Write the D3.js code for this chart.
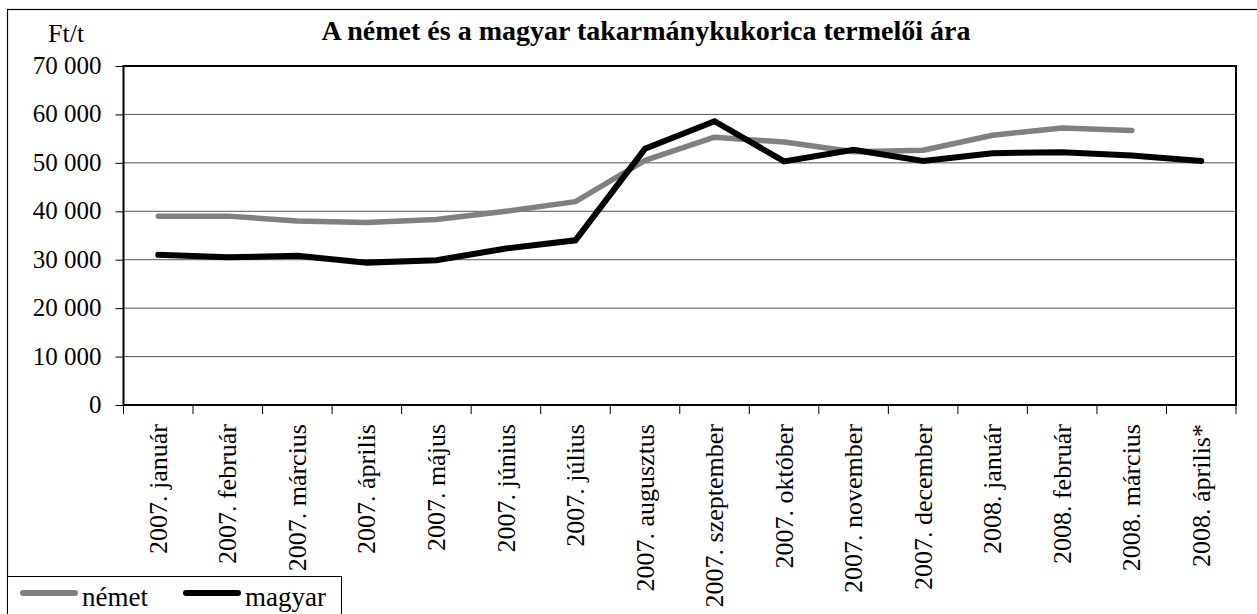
<!DOCTYPE html>
<html>
<head>
<meta charset="utf-8">
<script src="https://cdn.jsdelivr.net/npm/d3@7"></script>
<style>
  body { margin: 0; background: #fff; }
</style>
</head>
<body>
<div id="graph"></div>
<script>
// chart data
var months = ["2007. január", "2007. február", "2007. március", "2007. április", "2007. május",
  "2007. június", "2007. július", "2007. augusztus", "2007. szeptember", "2007. október",
  "2007. november", "2007. december", "2008. január", "2008. február", "2008. március",
  "2008. április*"];
var nemet = [39000, 39000, 38000, 37700, 38300, 40000, 42000, 50500, 55300, 54300,
  52300, 52600, 55700, 57200, 56700, null];
var magyar = [31000, 30500, 30800, 29400, 29900, 32300, 34000, 52900, 58600, 50300,
  52700, 50400, 52000, 52200, 51500, 50400];
var yTicks = [0, 10000, 20000, 30000, 40000, 50000, 60000, 70000];

var FONT = "'Liberation Serif', 'Times New Roman', Times, 'DejaVu Serif', serif";

var W = 1257, H = 614;
var margin = {top: 66, right: 21, bottom: 209, left: 123.5},
    width = W - margin.left - margin.right,
    height = H - margin.top - margin.bottom;

var svg = d3.select("#graph").append("svg")
    .attr("width", W)
    .attr("height", H)
    .attr("font-family", FONT);

// outer frame (runs off the right and bottom edges)
svg.append("rect")
    .attr("x", 7.5).attr("y", 9.5)
    .attr("width", W + 20).attr("height", H + 20)
    .attr("fill", "none").attr("stroke", "#000").attr("stroke-width", 1.2);

var x = d3.scaleBand().domain(months).range([0, width]);
var y = d3.scaleLinear().domain([0, 70000]).range([height, 0]);

var fmt = function(d) { return d3.format(",")(d).replace(/,/g, " "); };

var focus = svg.append("g")
    .attr("transform", "translate(" + margin.left + "," + margin.top + ")");

// gridlines
focus.append("g")
    .selectAll("line")
    .data(yTicks.filter(function(d) { return d > 0 && d < 70000; }))
    .enter().append("line")
    .attr("x1", 0).attr("x2", width)
    .attr("y1", function(d) { return y(d); })
    .attr("y2", function(d) { return y(d); })
    .attr("stroke", "#555").attr("stroke-width", 1);

// plot area border
focus.append("rect")
    .attr("width", width).attr("height", height)
    .attr("fill", "none").attr("stroke", "#000").attr("stroke-width", 2);

// y axis
var yAxis = focus.append("g")
    .call(d3.axisLeft(y).tickValues(yTicks).tickFormat(fmt).tickSize(8).tickPadding(14));
yAxis.attr("font-family", FONT);
yAxis.select(".domain").remove();
yAxis.selectAll("line").attr("stroke", "#000");
yAxis.selectAll("text").attr("font-size", 25).attr("fill", "#000").attr("dy", "0.3em");

// x axis
var xAxis = focus.append("g")
    .attr("transform", "translate(0," + height + ")")
    .call(d3.axisBottom(x).tickSize(0));
xAxis.attr("font-family", FONT);
xAxis.select(".domain").remove();
xAxis.selectAll("text")
    .attr("font-size", 26)
    .attr("fill", "#000")
    .style("text-anchor", "end")
    .attr("transform", "rotate(-90)")
    .attr("x", -19).attr("y", 0).attr("dy", "0.33em");

// x tick marks sit at the category boundaries
focus.append("g")
    .selectAll("line")
    .data(d3.range(months.length + 1))
    .enter().append("line")
    .attr("x1", function(i) { return i * x.step(); })
    .attr("x2", function(i) { return i * x.step(); })
    .attr("y1", height).attr("y2", height + 9)
    .attr("stroke", "#000").attr("stroke-width", 1);

var line = d3.line()
    .defined(function(d) { return d != null; })
    .x(function(d, i) { return x(months[i]) + x.bandwidth() / 2; })
    .y(function(d) { return y(d); });

focus.append("path")
    .datum(nemet)
    .attr("d", line)
    .attr("fill", "none").attr("stroke", "#808080").attr("stroke-width", 5.5)
    .attr("stroke-linecap", "round").attr("stroke-linejoin", "round");

focus.append("path")
    .datum(magyar)
    .attr("d", line)
    .attr("fill", "none").attr("stroke", "#000").attr("stroke-width", 6)
    .attr("stroke-linecap", "round").attr("stroke-linejoin", "miter");

// title and unit
svg.append("text")
    .attr("x", 646).attr("y", 40)
    .attr("text-anchor", "middle")
    .attr("font-size", 28)
    .attr("font-weight", "bold")
    .text("A német és a magyar takarmánykukorica termelői ára");

svg.append("text")
    .attr("x", 48).attr("y", 42)
    .attr("font-size", 26)
    .text("Ft/t");

// legend
var legend = svg.append("g");
legend.append("rect")
    .attr("x", 7.5).attr("y", 576.5).attr("width", 334).attr("height", 60)
    .attr("fill", "#fff").attr("stroke", "#000").attr("stroke-width", 1);

var items = [{name: "német", color: "#808080", x: 20}, {name: "magyar", color: "#000", x: 183}];
items.forEach(function(it) {
  legend.append("line")
      .attr("x1", it.x + 3).attr("x2", it.x + 55)
      .attr("y1", 593).attr("y2", 593)
      .attr("stroke", it.color).attr("stroke-width", 6)
      .attr("stroke-linecap", "round");
  legend.append("text")
      .attr("x", it.x + 62).attr("y", 606)
      .attr("font-size", 27)
      .text(it.name);
});
</script>
</body>
</html>
